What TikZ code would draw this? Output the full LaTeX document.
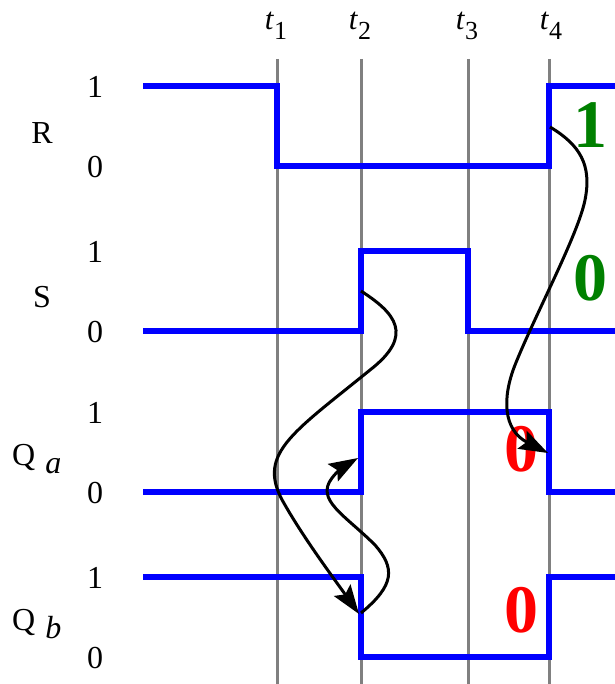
\documentclass[tikz,border=0pt]{standalone}
\usepackage{fontspec}
\setmainfont{Liberation Serif}
\usetikzlibrary{arrows.meta}
\definecolor{sig}{RGB}{0,0,255}
\definecolor{tline}{RGB}{128,128,128}
\definecolor{dkgreen}{RGB}{0,128,0}
\tikzset{
  wave/.style={draw=sig, line width=5.5pt, line join=miter},
  timeline/.style={draw=tline, line width=3pt},
  lbl/.style={inner sep=0pt, font=\fontsize{32}{36}\selectfont},
  tlbl/.style={inner sep=0pt, font=\fontsize{31}{36}\selectfont},
  big/.style={inner sep=0pt, font=\fontsize{68}{72}\selectfont\bfseries},
  cause/.style={draw=black, line width=3pt},
  causetip/.style={arrows={-Stealth[length=29pt,width=20pt,inset=5pt]}}
}
\begin{document}
\begin{tikzpicture}[x=1pt,y=-1pt]
\useasboundingbox (0,0) rectangle (614,684);
% time lines
\foreach \n/\x in {1/277,2/361,3/468,4/549}{
  \draw[timeline] (\x,59) -- (\x,684);
}
\node[tlbl] (t1) at (276,26) {\textit{t}\raisebox{-10pt}{\fontsize{26}{30}\selectfont 1}};
\node[tlbl] (t2) at (360,26) {\textit{t}\raisebox{-10pt}{\fontsize{26}{30}\selectfont 2}};
\node[tlbl] (t3) at (467,26) {\textit{t}\raisebox{-10pt}{\fontsize{26}{30}\selectfont 3}};
\node[tlbl] (t4) at (551,26) {\textit{t}\raisebox{-10pt}{\fontsize{26}{30}\selectfont 4}};
% waveforms
\draw[wave] (143,86) -- (277,86) -- (277,166) -- (549,166) -- (549,86) -- (616,86);
\draw[wave] (143,331) -- (361,331) -- (361,251) -- (468,251) -- (468,331) -- (616,331);
\draw[wave] (143,492) -- (361,492) -- (361,412) -- (549,412) -- (549,492) -- (616,492);
\draw[wave] (143,577) -- (361,577) -- (361,657) -- (549,657) -- (549,577) -- (616,577);
% level labels
\node[lbl] (r1) at (95,87) {1};
\node[lbl] (r0) at (95,167) {0};
\node[lbl] (s1) at (95,252) {1};
\node[lbl] (s0) at (95,332) {0};
\node[lbl] (qa1) at (95,413) {1};
\node[lbl] (qa0) at (95,493) {0};
\node[lbl] (qb1) at (95,578) {1};
\node[lbl] (qb0) at (95,658) {0};
% signal names
\node[lbl] (nR) at (42,133) {R};
\node[lbl] (nS) at (42,297) {S};
\node[lbl, anchor=base west] (nQa) at (12,465) {Q\kern10pt\raisebox{-8pt}{\textit{a}}};
\node[lbl, anchor=base west] (nQb) at (12,630) {Q\kern10pt\raisebox{-8pt}{\textit{b}}};
% big values
\node[big, text=dkgreen] (g1) at (590,125) {1};
\node[big, text=dkgreen] (g0) at (590,278) {0};
\node[big, text=red] (ra0) at (521,449) {0};
\node[big, text=red] (rb0) at (521,610) {0};
% cause arrows
\coordinate (Srise) at (361,291);
\coordinate (Qbfall) at (359,614);
\coordinate (Qbfall2) at (361,613);
\coordinate (Qarise) at (358,458);
\coordinate (Rrise) at (550,127);
\coordinate (Qafall) at (548,453);
\draw[cause, causetip] (Srise) .. controls (395,313) and (415,335) .. (370,370)
  .. controls (290,435) and (255,455) .. (285,505)
  .. controls (305,540) and (335,580) .. (Qbfall);
\draw[cause, causetip] (Qbfall2) .. controls (395,585) and (395,568) .. (375,545)
  .. controls (345,515) and (315,500) .. (332,478)
  .. controls (337,471) and (346,465) .. (Qarise);
\draw[cause, causetip] (Rrise) .. controls (580,145) and (592,165) .. (585,200)
  .. controls (578,235) and (535,315) .. (515,365)
  .. controls (502,398) and (503,430) .. (Qafall);
\end{tikzpicture}
\end{document}
